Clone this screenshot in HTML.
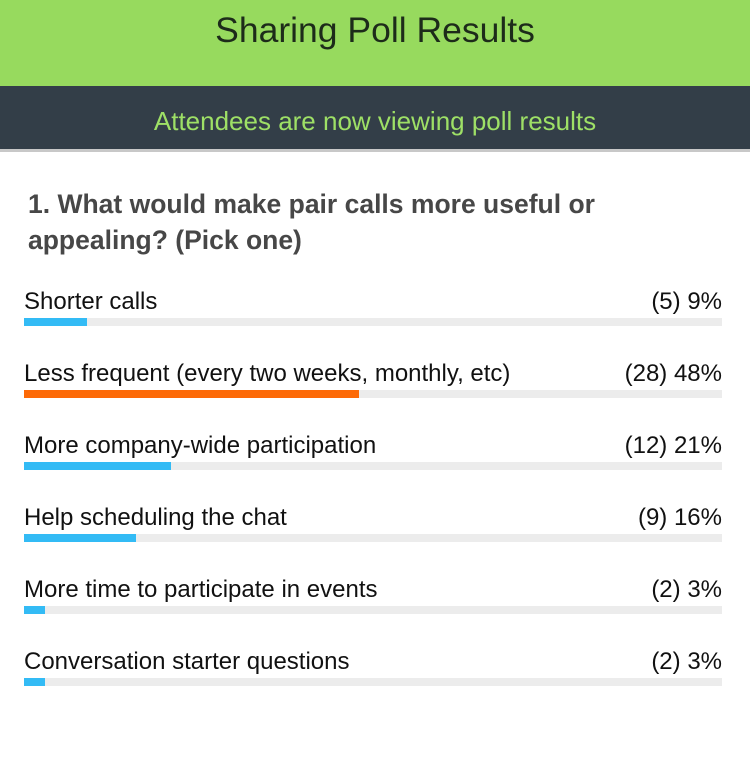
<!DOCTYPE html>
<html><head><meta charset="utf-8"><style>
body{margin:0;width:750px;height:776px;background:#fff;font-family:"Liberation Sans",Arial,sans-serif;position:relative;overflow:hidden}
.hdr{position:absolute;left:0;top:0;width:750px;height:86px;background:#97da5e;color:#1d2b1a;font-size:35.5px;text-align:center;line-height:60px}
.sub{position:absolute;left:0;top:86px;width:750px;height:63px;background:#333e48;border-bottom:3px solid #c8c8c8;color:#9ee066;font-size:26px;text-align:center;line-height:70px}
.q{position:absolute;left:28px;top:186px;width:700px;font-size:26.5px;font-weight:bold;color:#474747;line-height:36px}
.item{position:absolute;left:24px;width:698px;height:40px}
.lbl{position:absolute;left:0;top:0;font-size:24px;color:#111;line-height:24px;white-space:nowrap}
.val{position:absolute;right:0;top:0;font-size:24px;color:#111;line-height:24px;white-space:nowrap}
.track{position:absolute;left:0;top:28px;width:698px;height:8px;background:#ececec}
.fill{position:absolute;left:0;top:0;height:8px;background:#33bbf5}
</style></head><body>
<div class="hdr">Sharing Poll Results</div>
<div class="sub">Attendees are now viewing poll results</div>
<div class="q">1. What would make pair calls more useful or<br>appealing? (Pick one)</div>
<div id="list"></div>
<script>
const labels=["Shorter calls","Less frequent (every two weeks, monthly, etc)","More company-wide participation","Help scheduling the chat","More time to participate in events","Conversation starter questions"];
const counts=[5,28,12,9,2,2];
const percents=[9,48,21,16,3,3];
const highlight=1;
const list=document.getElementById('list');
labels.forEach((l,i)=>{
 const it=document.createElement('div');it.className='item';it.style.top=(290+i*72)+'px';
 
 
 const a=document.createElement('div');a.className='lbl';a.textContent=l;
 
 
 const v=document.createElement('div');v.className='val';v.textContent='('+counts[i]+') '+percents[i]+'%';
 
 
 const t=document.createElement('div');t.className='track';
 
 
 const f=document.createElement('div');f.className='fill';f.style.width=(698*percents[i]/100)+'px';
 if(i===highlight)f.style.background='#fd6a07';
 
 
 t.appendChild(f);it.appendChild(a);it.appendChild(v);it.appendChild(t);list.appendChild(it);
});
</script>
</body></html>
